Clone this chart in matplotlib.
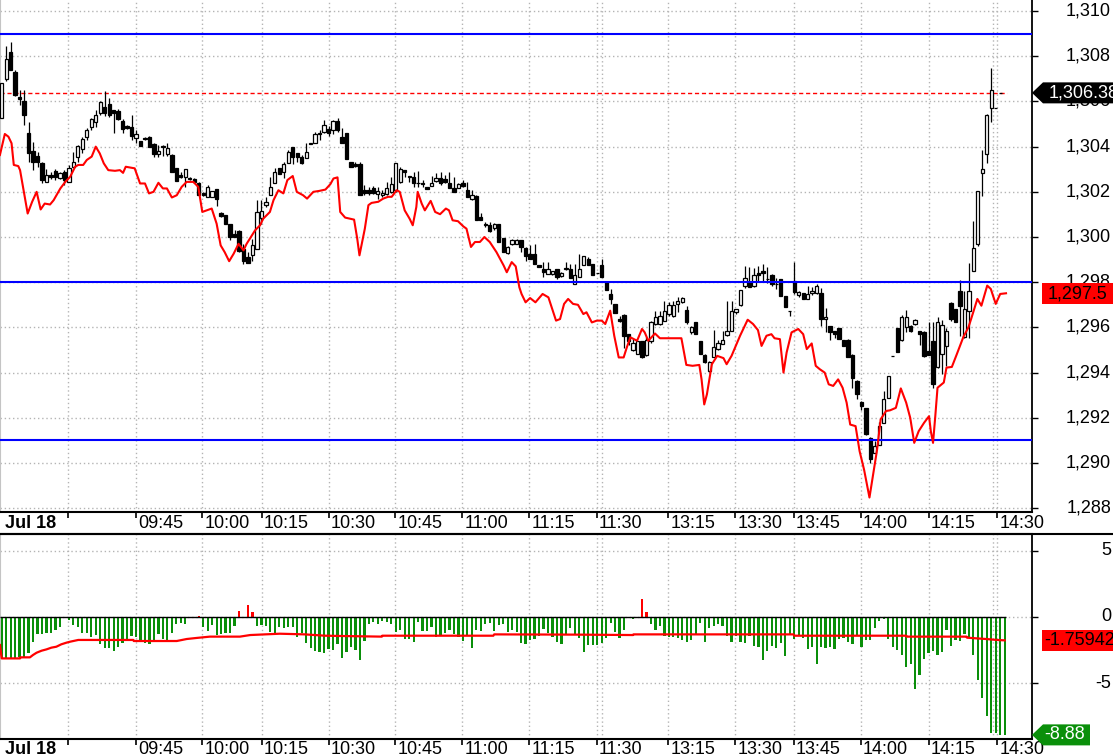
import numpy as np
import matplotlib
matplotlib.use('Agg')
import matplotlib.pyplot as plt
from matplotlib.lines import Line2D
from matplotlib.patches import Polygon
from matplotlib.transforms import IdentityTransform

plt.rcParams['font.family'] = ['Liberation Sans', 'DejaVu Sans']

# 1-minute candles, Jul 18
opens = [1305.26, 1306.99, 1308.19, 1307.29, 1306.18, 1306.04, 1304.59, 1303.81, 1303.59, 1303.26,
         1302.44, 1302.74, 1302.93, 1302.59, 1302.86, 1302.44, 1303.08, 1303.56, 1303.88, 1304.41,
         1304.89, 1305.07, 1305.51, 1305.75, 1305.90, 1305.63, 1305.59, 1305.14, 1304.93, 1304.89,
         1304.37, 1304.25, 1304.39, 1304.41, 1304.12, 1303.67, 1304.03, 1303.67, 1303.63, 1303.04,
         1302.73, 1302.67, 1302.61, 1302.56, 1302.40, 1301.96, 1301.78, 1301.78, 1302.11, 1301.08,
         1300.96, 1300.56, 1300.12, 1300.27, 1299.48, 1299.11, 1299.19, 1299.48, 1300.86, 1301.41,
         1301.85, 1302.40, 1303.04, 1302.89, 1303.26, 1303.97, 1303.70, 1303.56, 1303.48, 1304.12,
         1304.18, 1304.56, 1304.67, 1304.79, 1304.74, 1305.15, 1304.44, 1304.59, 1303.30, 1303.21,
         1303.22, 1302.10, 1302.10, 1302.19, 1301.90, 1301.85, 1301.90, 1302.00, 1302.07, 1302.44,
         1302.96, 1302.70, 1302.67, 1302.41, 1302.39, 1302.22, 1302.27, 1302.49, 1302.59, 1302.55,
         1302.40, 1302.15, 1302.19, 1302.37, 1302.07, 1301.70, 1301.81, 1300.89, 1300.59, 1300.52,
         1300.41, 1300.56, 1299.97, 1299.29, 1299.67, 1299.70, 1299.85, 1299.52, 1299.23, 1299.23,
         1298.74, 1298.59, 1298.37, 1298.37, 1298.59, 1298.27, 1298.59, 1298.59, 1297.90, 1298.25,
         1298.78, 1299.04, 1298.81, 1298.40, 1298.78, 1297.99, 1297.48, 1297.04, 1296.37, 1296.56,
         1295.73, 1295.00, 1294.81, 1295.38, 1294.78, 1295.38, 1296.15, 1296.15, 1296.30, 1296.59,
         1296.52, 1297.04, 1297.11, 1296.77, 1295.78, 1296.22, 1295.41, 1294.78, 1294.07, 1294.70,
         1295.04, 1295.26, 1295.67, 1295.85, 1296.66, 1297.00, 1297.85, 1297.99, 1297.85, 1298.40,
         1298.49, 1298.15, 1298.34, 1297.93, 1298.15, 1297.41, 1296.71, 1298.04, 1297.45, 1297.51,
         1297.26, 1297.51, 1297.51, 1297.51, 1296.37, 1296.07, 1295.85, 1295.97, 1295.44, 1295.44,
         1294.78, 1293.63, 1292.71, 1292.44, 1291.11, 1290.45, 1290.81, 1291.78, 1292.89, 1294.74,
         1295.97, 1295.44, 1296.03, 1296.07, 1296.15, 1295.82, 1295.78, 1294.96, 1295.41, 1294.25,
         1294.81, 1295.18, 1297.07, 1296.81, 1297.63, 1295.59, 1296.74, 1298.49, 1299.67, 1302.84,
         1303.68, 1305.73, 1305.73, 1306.38]
highs = [1306.81, 1308.44, 1308.64, 1307.38, 1306.52, 1306.52, 1305.11, 1304.22, 1303.78, 1303.33,
         1302.99, 1302.89, 1302.99, 1302.89, 1302.96, 1303.19, 1303.78, 1304.07, 1304.44, 1304.84,
         1305.26, 1305.63, 1306.04, 1306.47, 1306.15, 1305.63, 1305.66, 1305.21, 1304.96, 1305.41,
         1304.74, 1304.25, 1304.44, 1304.47, 1304.15, 1304.07, 1304.07, 1304.15, 1303.67, 1303.07,
         1302.89, 1302.99, 1302.67, 1302.62, 1302.44, 1302.00, 1302.30, 1302.02, 1302.11, 1301.11,
         1300.96, 1300.59, 1300.30, 1300.30, 1299.70, 1299.33, 1299.93, 1301.63, 1301.63, 1301.78,
         1302.67, 1303.04, 1303.04, 1303.33, 1303.85, 1304.00, 1303.73, 1303.63, 1304.15, 1304.18,
         1304.67, 1304.74, 1305.19, 1304.92, 1305.19, 1305.26, 1304.81, 1304.59, 1303.30, 1303.33,
         1303.30, 1302.30, 1302.22, 1302.25, 1302.22, 1302.07, 1302.44, 1302.64, 1303.26, 1303.08,
         1302.96, 1302.70, 1302.89, 1302.93, 1302.52, 1302.22, 1302.70, 1302.84, 1302.89, 1302.74,
         1302.89, 1302.67, 1302.40, 1302.52, 1302.44, 1302.07, 1301.85, 1301.07, 1300.67, 1300.67,
         1300.62, 1300.56, 1299.97, 1299.59, 1299.93, 1299.93, 1299.89, 1299.56, 1299.63, 1299.67,
         1298.77, 1298.89, 1298.89, 1298.49, 1298.59, 1298.44, 1298.89, 1298.81, 1298.81, 1299.26,
         1299.18, 1299.11, 1298.81, 1298.41, 1299.04, 1298.00, 1297.70, 1297.04, 1296.52, 1296.59,
         1295.73, 1295.48, 1295.41, 1295.40, 1295.56, 1296.30, 1296.74, 1296.74, 1297.15, 1297.11,
         1297.18, 1297.36, 1297.36, 1296.96, 1296.07, 1296.22, 1295.41, 1294.81, 1294.52, 1295.88,
         1295.44, 1295.85, 1297.18, 1297.15, 1296.81, 1297.66, 1298.70, 1298.66, 1298.63, 1298.70,
         1298.81, 1298.66, 1298.37, 1298.19, 1298.15, 1297.41, 1296.71, 1298.89, 1297.63, 1297.51,
         1297.85, 1297.78, 1297.93, 1297.75, 1296.86, 1296.07, 1295.85, 1295.97, 1295.44, 1295.48,
         1294.81, 1293.66, 1292.74, 1292.44, 1291.14, 1290.96, 1291.82, 1293.18, 1293.85, 1294.74,
         1295.97, 1296.56, 1296.77, 1296.12, 1296.37, 1295.82, 1295.82, 1296.22, 1296.22, 1296.44,
         1296.33, 1295.97, 1297.11, 1296.81, 1298.10, 1297.63, 1298.86, 1300.71, 1302.02, 1303.86,
         1305.43, 1307.46, 1305.73, 1306.38]
lows = [1305.26, 1306.90, 1307.38, 1306.25, 1305.85, 1304.96, 1303.33, 1302.96, 1303.11, 1302.40,
        1302.44, 1302.55, 1302.52, 1302.55, 1302.30, 1302.44, 1303.08, 1303.33, 1303.70, 1304.30,
        1304.74, 1304.89, 1305.41, 1305.36, 1305.30, 1304.62, 1305.19, 1304.59, 1304.77, 1304.30,
        1304.18, 1304.04, 1304.30, 1303.97, 1303.56, 1303.56, 1303.59, 1303.59, 1302.89, 1302.49,
        1302.59, 1302.22, 1302.52, 1302.40, 1301.85, 1301.81, 1301.78, 1301.78, 1301.38, 1300.89,
        1300.59, 1299.85, 1300.00, 1299.33, 1298.81, 1298.86, 1298.96, 1299.48, 1300.59, 1301.33,
        1301.85, 1302.40, 1302.81, 1302.59, 1303.26, 1303.23, 1303.33, 1303.23, 1303.48, 1304.12,
        1304.18, 1304.30, 1304.59, 1304.47, 1304.56, 1304.67, 1304.18, 1303.44, 1303.08, 1303.08,
        1301.85, 1301.85, 1301.85, 1301.90, 1301.70, 1301.75, 1301.85, 1301.93, 1302.00, 1302.37,
        1302.67, 1302.44, 1302.22, 1302.22, 1302.22, 1302.13, 1302.27, 1302.44, 1302.30, 1302.37,
        1302.19, 1302.00, 1302.15, 1302.22, 1301.75, 1301.66, 1300.74, 1300.74, 1300.44, 1300.22,
        1300.30, 1299.78, 1299.33, 1299.26, 1299.63, 1299.67, 1299.33, 1298.96, 1299.04, 1298.81,
        1298.67, 1298.22, 1298.37, 1298.30, 1298.15, 1298.25, 1298.52, 1298.19, 1297.90, 1298.22,
        1298.74, 1298.74, 1298.34, 1298.39, 1298.22, 1297.66, 1297.04, 1296.62, 1296.22, 1295.11,
        1295.23, 1294.96, 1294.81, 1294.66, 1294.74, 1295.33, 1296.12, 1296.12, 1296.27, 1296.52,
        1296.44, 1296.70, 1297.07, 1296.15, 1295.73, 1295.73, 1294.81, 1294.44, 1294.04, 1294.67,
        1294.99, 1295.26, 1295.63, 1295.82, 1296.59, 1296.96, 1297.75, 1297.81, 1297.81, 1297.99,
        1298.07, 1297.95, 1297.85, 1297.70, 1297.41, 1296.89, 1296.52, 1297.48, 1297.33, 1297.26,
        1297.26, 1297.45, 1297.48, 1296.07, 1295.78, 1295.44, 1295.52, 1295.48, 1295.18, 1294.67,
        1293.33, 1292.81, 1292.33, 1291.23, 1290.00, 1290.45, 1290.81, 1291.78, 1292.89, 1294.74,
        1294.89, 1295.38, 1295.78, 1295.78, 1296.12, 1295.23, 1294.67, 1294.78, 1293.33, 1294.22,
        1293.93, 1294.30, 1296.30, 1296.22, 1295.63, 1295.55, 1295.52, 1298.49, 1299.60, 1301.82,
        1303.26, 1305.09, 1305.73, 1306.38]
closes = [1306.81, 1307.88, 1307.38, 1306.30, 1306.11, 1305.41, 1303.70, 1303.33, 1303.33, 1302.52,
          1302.74, 1302.64, 1302.67, 1302.84, 1302.52, 1303.04, 1303.33, 1304.03, 1304.33, 1304.74,
          1305.21, 1305.41, 1305.96, 1305.51, 1305.41, 1305.48, 1305.21, 1304.77, 1304.81, 1304.47,
          1304.55, 1304.04, 1304.34, 1304.00, 1303.67, 1303.81, 1303.97, 1303.93, 1302.89, 1302.49,
          1302.67, 1302.99, 1302.55, 1302.44, 1301.85, 1301.85, 1302.22, 1302.02, 1301.70, 1300.93,
          1300.59, 1300.00, 1300.00, 1299.38, 1298.96, 1298.86, 1299.63, 1301.11, 1301.15, 1301.57,
          1302.22, 1302.89, 1302.81, 1303.22, 1303.78, 1303.53, 1303.53, 1303.29, 1303.75, 1304.15,
          1304.56, 1304.62, 1304.95, 1304.59, 1305.14, 1304.74, 1304.18, 1303.44, 1303.08, 1303.16,
          1301.85, 1301.93, 1301.93, 1301.93, 1302.04, 1301.96, 1302.19, 1302.34, 1303.26, 1302.99,
          1302.89, 1302.64, 1302.40, 1302.37, 1302.36, 1302.13, 1302.41, 1302.59, 1302.37, 1302.44,
          1302.19, 1302.00, 1302.34, 1302.27, 1301.78, 1301.85, 1300.74, 1300.74, 1300.55, 1300.27,
          1300.56, 1299.78, 1299.33, 1299.56, 1299.89, 1299.89, 1299.56, 1299.14, 1299.04, 1298.81,
          1298.67, 1298.44, 1298.59, 1298.49, 1298.25, 1298.41, 1298.63, 1298.19, 1298.34, 1298.59,
          1299.15, 1298.78, 1298.34, 1298.40, 1298.22, 1297.66, 1297.26, 1296.62, 1296.30, 1295.63,
          1295.38, 1295.29, 1295.41, 1294.70, 1295.44, 1296.25, 1296.47, 1296.52, 1296.71, 1297.00,
          1297.00, 1297.15, 1297.30, 1296.22, 1296.03, 1295.73, 1294.81, 1294.49, 1294.49, 1295.14,
          1295.33, 1295.44, 1295.85, 1296.74, 1296.81, 1297.66, 1298.19, 1297.81, 1298.34, 1298.30,
          1298.40, 1298.12, 1297.93, 1297.92, 1297.41, 1296.89, 1296.71, 1297.55, 1297.55, 1297.26,
          1297.48, 1297.63, 1297.85, 1296.37, 1296.47, 1295.78, 1295.70, 1295.48, 1295.18, 1294.67,
          1293.75, 1293.07, 1292.52, 1291.26, 1290.19, 1290.74, 1291.63, 1292.81, 1293.85, 1294.74,
          1294.89, 1296.47, 1296.47, 1295.82, 1296.33, 1295.73, 1294.74, 1294.78, 1293.48, 1296.22,
          1296.12, 1295.85, 1296.37, 1296.22, 1296.96, 1296.81, 1297.63, 1299.53, 1302.02, 1303.01,
          1305.39, 1306.50, 1305.73, 1306.38]

# red comparison line (bar position, value)
red_x = [-0.4, 0.7, 1.5, 2.2, 2.7, 3.7, 4.1, 5.0, 5.8, 6.8, 7.8, 8.7, 9.6, 10.8, 11.6, 13.1, 14.2, 15.3,
         16.4, 17.1, 18.2, 19.0, 20.1, 21.0, 21.9, 22.8, 23.8, 25.3, 26.4, 27.1, 27.7, 29.7, 30.9, 32.0,
         32.9, 33.9, 35.0, 36.0, 36.9, 38.0, 39.1, 40.2, 41.3, 42.8, 43.9, 44.8, 46.9, 48.0, 48.9, 49.8,
         50.8, 51.8, 52.9, 54.0, 54.7, 56.6, 57.7, 58.4, 59.9, 60.7, 61.8, 62.9, 63.8, 65.0, 65.9, 67.3,
         68.2, 69.6, 70.9, 72.3, 73.4, 74.1, 75.0, 75.6, 76.7, 78.7, 79.4, 79.9, 81.1, 81.9, 82.6, 84.1,
         85.2, 86.3, 87.1, 88.2, 88.9, 90.0, 91.1, 91.8, 92.6, 92.9, 93.8, 94.5, 95.8, 96.8, 97.9, 99.2,
         99.9, 100.7, 101.9, 103.1, 103.8, 104.8, 105.7, 106.8, 107.8, 109.0, 110.5, 112.1, 112.8, 113.9,
         114.8, 115.6, 116.1, 117.0, 118.0, 119.2, 120.8, 122.1, 123.8, 124.7, 125.6, 126.5, 127.6, 128.7,
         129.9, 130.6, 131.8, 132.9, 134.0, 134.8, 135.9, 136.8, 137.8, 138.9, 139.6, 140.4, 141.9, 143.0,
         143.6, 144.4, 145.9, 147.0, 151.8, 152.9, 154.3, 155.8, 156.3, 156.9, 157.5, 158.6, 159.8, 161.2,
         161.9, 163.0, 164.9, 166.6, 167.8, 168.9, 169.7, 170.8, 171.9, 172.6, 173.8, 174.6, 175.3, 176.4,
         177.9, 179.0, 179.8, 180.9, 181.8, 182.7, 183.8, 184.7, 185.7, 186.8, 187.8, 188.7, 189.5, 190.7,
         191.6, 192.6, 193.8, 194.6, 195.5, 196.3, 197.5, 198.4, 199.7, 200.8, 202.0, 202.9, 203.8, 204.8,
         206.0, 207.1, 207.5, 208.0, 208.5, 209.0, 210.4, 211.0, 212.2, 213.3, 214.8, 215.9, 216.5, 217.9,
         218.8, 220.1, 220.9, 222.0, 223.0, 224.3]
red_y = [1303.63, 1304.56, 1304.44, 1304.15, 1303.19, 1303.14, 1302.96, 1301.93, 1301.04, 1301.56, 1302.00,
         1301.22, 1301.48, 1301.44, 1301.63, 1302.15, 1302.44, 1302.67, 1303.11, 1303.19, 1303.19, 1303.41,
         1303.56, 1304.00, 1303.70, 1303.26, 1302.96, 1302.93, 1302.96, 1302.84, 1303.11, 1303.04, 1302.37,
         1302.37, 1301.93, 1302.00, 1302.40, 1302.15, 1302.15, 1301.75, 1301.85, 1302.22, 1302.44, 1302.44,
         1302.22, 1301.11, 1301.26, 1300.59, 1299.63, 1299.33, 1298.93, 1299.26, 1299.70, 1299.41, 1299.70,
         1300.30, 1300.52, 1300.81, 1301.11, 1301.63, 1302.07, 1301.93, 1302.52, 1302.70, 1302.00, 1301.85,
         1301.70, 1302.00, 1302.04, 1302.10, 1302.34, 1302.59, 1302.64, 1301.11, 1300.86, 1300.77, 1299.93,
         1299.19, 1300.37, 1301.41, 1301.51, 1301.56, 1301.70, 1301.78, 1301.78, 1302.07, 1302.00, 1301.18,
         1300.81, 1300.52, 1301.33, 1302.00, 1301.48, 1301.18, 1301.60, 1301.11, 1301.01, 1301.26, 1301.18,
         1300.74, 1300.70, 1300.47, 1300.37, 1299.56, 1299.78, 1299.78, 1300.00, 1299.78, 1299.33, 1298.74,
         1298.44, 1298.89, 1298.70, 1297.78, 1297.48, 1297.11, 1297.30, 1297.11, 1297.48, 1297.33, 1296.30,
         1296.37, 1297.04, 1297.26, 1297.04, 1297.00, 1296.59, 1296.67, 1296.22, 1296.30, 1296.30, 1296.15,
         1296.74, 1295.63, 1294.67, 1294.67, 1295.11, 1295.56, 1295.41, 1295.93, 1295.78, 1295.41, 1295.73,
         1295.52, 1295.52, 1294.34, 1294.30, 1294.34, 1293.70, 1292.59, 1293.04, 1294.37, 1294.74, 1294.64,
         1294.37, 1294.74, 1295.63, 1296.34, 1296.15, 1295.88, 1295.18, 1295.63, 1295.70, 1295.52, 1295.48,
         1294.00, 1294.89, 1295.78, 1295.93, 1295.70, 1295.04, 1295.29, 1294.30, 1294.15, 1294.00, 1293.48,
         1293.41, 1293.70, 1293.33, 1292.67, 1291.70, 1291.63, 1290.52, 1289.70, 1288.47, 1289.48, 1290.59,
         1291.93, 1292.30, 1292.33, 1292.44, 1293.30, 1292.67, 1292.00, 1290.89, 1291.41, 1291.78, 1292.07,
         1291.41, 1290.89, 1292.07, 1293.33, 1293.56, 1294.22, 1294.25, 1294.81, 1295.59, 1296.00, 1296.37,
         1297.26, 1296.96, 1297.85, 1297.70, 1297.04, 1297.48, 1297.51]

levels = [1309, 1298, 1291]
last_price = 1306.38
red_last = 1297.5

# lower panel: oscillator histogram and its signal line
osc = [-3.12, -3.19, -3.12, -3.12, -3.04, -3.12, -2.69, -1.86, -1.28, -1.28,
       -1.18, -1.18, -0.98, -0.73, 0.0, -0.23, -0.60, -0.73, -1.18, -1.23,
       -1.53, -1.33, -2.06, -2.31, -2.31, -2.54, -2.24, -1.93, -1.73, -1.41,
       -1.48, -1.73, -1.93, -2.06, -1.73, -1.31, -1.66, -1.78, -1.18, -0.55,
       -0.43, -0.55, 0.0, 0.0, 0.08, -0.73, -1.03, -0.60, -1.36, -1.31,
       -1.23, -1.18, -0.65, 0.45, -0.10, 0.90, 0.35, -0.65, -0.60, -0.65,
       -1.11, -1.31, -0.73, -0.80, -0.78, -0.73, -1.48, -1.23, -1.98, -2.31,
       -2.54, -2.61, -2.74, -2.41, -2.49, -2.06, -3.07, -2.61, -2.24, -2.49,
       -3.24, -1.78, -0.55, -0.35, -0.53, -0.28, -0.35, -0.55, -1.16, -0.98,
       -1.66, -1.66, -1.86, -0.35, -1.03, -1.03, -0.78, -1.48, -1.41, -1.18,
       -0.98, -1.28, -1.53, -1.78, -1.36, -2.31, -0.98, -1.03, -0.53, -0.43,
       -1.03, -0.60, -0.53, -1.11, -0.98, -1.11, -1.93, -2.04, -1.73, -1.66,
       -1.43, -0.90, -1.18, -1.53, -1.86, -2.04, -1.36, -0.80, -1.36, -1.56,
       -2.61, -2.11, -2.11, -2.11, -1.93, -1.56, -0.48, -1.11, -1.56, -0.98,
       0.0, -0.18, 0.0, 1.35, 0.35, -0.53, -0.98, -0.65, -1.41, -1.48,
       -1.48, -1.56, -1.73, -1.86, -1.73, -1.31, -0.43, -1.86, -0.80, -0.65,
       -0.53, -0.65, -1.41, -1.86, -1.41, -1.86, -1.93, -1.41, -2.16, -2.24,
       -3.24, -2.54, -2.16, -2.31, -1.93, -2.91, -1.36, -1.66, -1.41, -1.56,
       -2.41, -2.24, -3.54, -2.24, -2.31, -2.24, -2.41, -1.68, -1.61, -1.86,
       -2.04, -1.36, -2.24, -1.73, -1.73, -0.80, -0.28, -0.18, -1.66, -2.24,
       -2.49, -2.86, -3.74, -3.54, -5.43, -4.37, -3.17, -2.69, -2.54, -2.86,
       -2.61, -0.98, -2.16, -1.73, -1.78, -1.31, -1.61, -2.86, -4.75, -6.08,
       -7.46, -8.77, -8.72, -8.89, -8.88]
sig_x = [-0.4, 0.0, 4.1, 4.1, 6.3, 7.0, 7.8, 8.9, 10.0, 11.1, 12.2, 13.3, 14.5, 15.3, 17.1, 29.4, 29.5,
         39.1, 41.3, 43.5, 46.5, 53.2, 55.5, 62.1, 67.7, 72.2, 75.5, 84.9, 85.0, 109.8, 110.0, 129.0,
         141.0, 141.1, 151.5, 176.8, 177.0, 202.0, 202.1, 215.5, 215.6, 219.9, 222.2, 224.0]
sig_y = [-2.11, -3.12, -3.12, -3.04, -3.04, -2.86, -2.69, -2.54, -2.44, -2.31, -2.24, -2.06, -1.93, -1.86,
         -1.73, -1.73, -1.81, -1.81, -1.66, -1.58, -1.48, -1.48, -1.36, -1.26, -1.31, -1.41, -1.43, -1.48,
         -1.41, -1.41, -1.31, -1.33, -1.36, -1.31, -1.31, -1.31, -1.41, -1.41, -1.48, -1.48, -1.56, -1.66,
         -1.73, -1.7594]
osc_last = -8.88
sig_last = -1.75942

# time axis
tick_pos = [14.8, 29.9, 44.8, 58.1, 73.0, 87.9, 102.9, 117.8, 132.9, 148.8, 163.8, 176.9, 191.8, 207.0, 222.3]
tick_lab = ['', '09:45', '10:00', '10:15', '10:30', '10:45', '11:00', '11:15', '11:30',
            '13:15', '13:30', '13:45', '14:00', '14:15', '14:30']
extra_grid = [134.0, 221.4]
date_label = 'Jul 18'
price_ticks = list(range(1288, 1311, 2))
osc_ticks = [-5, 0, 5]

W, H = 1113, 754
fig = plt.figure(figsize=(W / 100, H / 100), dpi=100)
fig.patch.set_facecolor('white')
ax = fig.add_axes([0, 1 - 512 / H, 1032 / W, 512 / H])
ax2 = fig.add_axes([0, 1 - 739 / H, 1032 / W, 205 / H])

grid_kw = dict(color='#b4b4b4', linestyle=(0, (1, 2)), linewidth=1)
FS = 13
label_x = 1111 / 1032   # right edge of the value labels, in axes units

for a in (ax, ax2):
    a.set_xlim(-0.38, 230.1)
    a.set_axisbelow(True)
    a.set_xticks(tick_pos)
    a.set_xticks(extra_grid, minor=True)
    a.set_xticklabels([])
    a.tick_params(axis='x', which='major', direction='out', length=4, width=1.2, color='black')
    a.tick_params(axis='x', which='minor', length=0)
    a.grid(True, which='both', **grid_kw)
    a.yaxis.tick_right()
    a.tick_params(axis='y', direction='out', length=4, width=1, labelright=False)
    a.spines['left'].set_color('#c4c4c4')
    a.spines['right'].set_linewidth(1.3)
    a.spines['bottom'].set_linewidth(1.5)

ax.spines['top'].set_visible(False)
ax2.spines['top'].set_linewidth(1.5)

# --- top panel: candles
x = np.arange(len(opens))
o = np.array(opens)
c = np.array(closes)
ax.vlines(x, lows, highs, color='black', linewidth=0.9, zorder=3)
body_col = ['white' if cc >= oo else 'black' for oo, cc in zip(o, c)]
ax.bar(x, np.abs(c - o), bottom=np.minimum(o, c), width=0.74, color=body_col,
       edgecolor='black', linewidth=0.9, zorder=4)

for lv in levels:
    ax.axhline(lv, color='#0000ff', linewidth=1.5, zorder=5)
ax.hlines(last_price, -0.38, 224.5, colors='#ff0000', linestyles=(0, (3, 2)), linewidth=1, zorder=2)
ax.plot(red_x, red_y, color='#ff0000', linewidth=1.5, zorder=6)

ax.set_ylim(1287.83, 1310.49)
ax.set_yticks(price_ticks)
for v in price_ticks:
    ax.text(label_x, v, '{:,}'.format(v), transform=ax.get_yaxis_transform(),
            ha='right', va='center', fontsize=FS, clip_on=False)

# --- lower panel
hx = np.arange(len(osc))
hcol = ['#ff0000' if v > 0 else '#0a8f0a' for v in osc]
ax2.bar(hx, osc, width=0.5, color=hcol, zorder=3)
ax2.hlines(0, -0.38, 224.3, colors='black', linewidth=1, zorder=4)
ax2.plot(sig_x, sig_y, color='#ff0000', linewidth=1.6, zorder=5)
ax2.set_ylim(-9.19, 6.25)
ax2.set_yticks(osc_ticks)
for v in osc_ticks:
    ax2.text(label_x, v, str(v), transform=ax2.get_yaxis_transform(),
             ha='right', va='center', fontsize=FS, clip_on=False)

# time labels in both bands
for a, yy in ((ax, -0.0215), (ax2, -0.05)):
    tr = a.get_xaxis_transform()
    a.text(0.75, yy, date_label, transform=tr, ha='left', va='center', fontsize=FS,
           fontweight='bold', clip_on=False)
    for p, lab in zip(tick_pos, tick_lab):
        a.text(p + 0.5, yy, lab, transform=tr, ha='left', va='center', fontsize=FS, clip_on=False)

fig.add_artist(Line2D([0, 1], [1 - 534 / H] * 2, color='black', linewidth=1.5))


def price_tag(a, value, text, face, fg, arrow, right=W, text_dx=16):
    y = a.transData.transform((0, value))[1]
    x0 = a.transAxes.transform((1, 0))[0]
    h = 10.5
    if arrow:
        pts = [(x0, y), (x0 + 11, y + h), (right, y + h), (right, y - h), (x0 + 11, y - h)]
    else:
        pts = [(x0 + 10, y + h), (right, y + h), (right, y - h), (x0 + 10, y - h)]
    fig.add_artist(Polygon(pts, closed=True, facecolor=face, edgecolor='none',
                           transform=IdentityTransform(), zorder=5))
    fig.text((x0 + text_dx) / W, y / H, text, color=fg, fontsize=FS, ha='left', va='center', zorder=6)


price_tag(ax, last_price, '{:,.2f}'.format(last_price), 'black', 'white', True, text_dx=17)
price_tag(ax, red_last, '{:,}'.format(red_last), '#ff0000', 'black', False)
price_tag(ax2, sig_last, '{}'.format(sig_last), '#ff0000', 'black', False, text_dx=12)
price_tag(ax2, osc_last, '{:.2f}'.format(osc_last), '#0a8f0a', 'white', True, right=1090, text_dx=12)

fig.savefig('out.png', dpi=100)
